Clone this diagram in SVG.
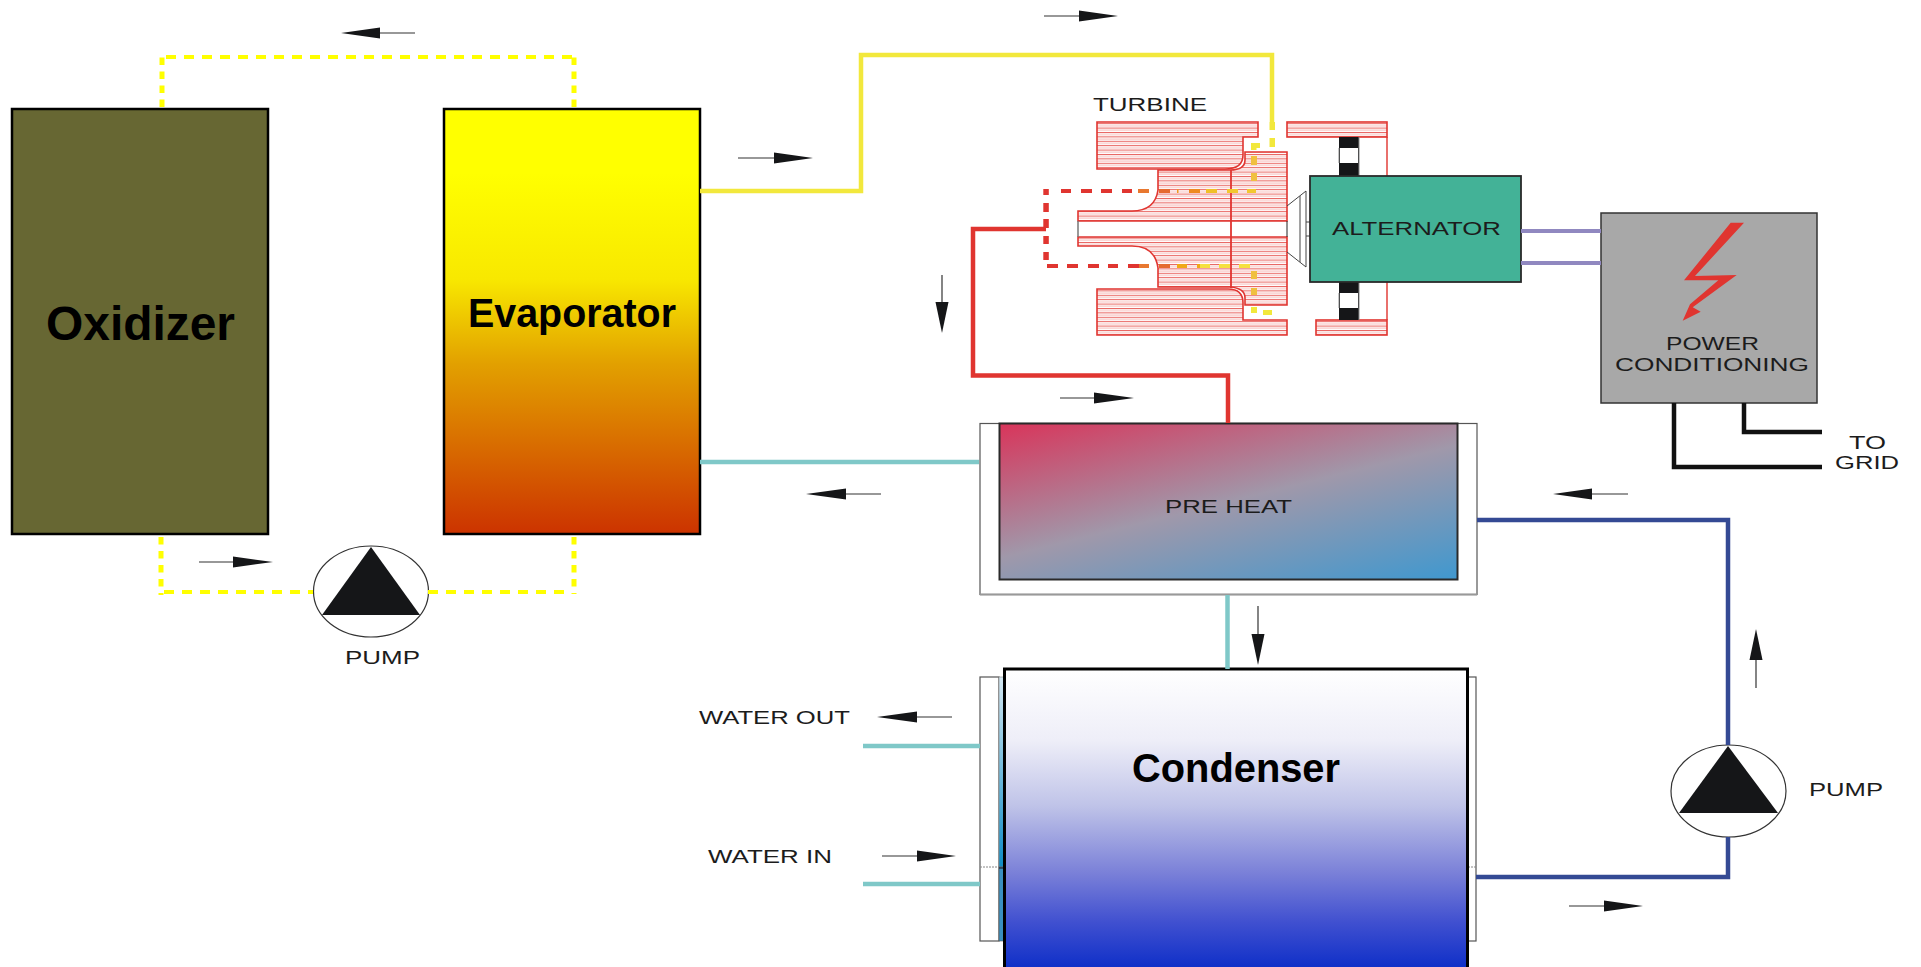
<svg xmlns="http://www.w3.org/2000/svg" width="1921" height="967" viewBox="0 0 1921 967">
<style>
.t{font-family:"Liberation Sans",Arial,sans-serif;font-size:18px;fill:#1c1c1c}
.b{font-family:"Liberation Sans",Arial,sans-serif;font-weight:bold;fill:#000}
.tb{fill:url(#hatch);stroke:#e03530;stroke-width:1.6}
.pipe{fill:none;stroke-linejoin:miter}
.teal{stroke:#7fc8c8;stroke-width:4.5}
.red{stroke:#e03530;stroke-width:4.5}
.blue{stroke:#344a94;stroke-width:4.5}
.blk{stroke:#111;stroke-width:4.5}
.pur{stroke:#9088c0;stroke-width:4}
.yh{stroke:#ffff00;stroke-width:4;stroke-dasharray:10 8}
.yv{stroke:#ffff00;stroke-width:5;stroke-dasharray:7.5 6.5}
.al{stroke:#333;stroke-width:1.2;fill:none}
.ah{fill:#151618}
</style>
<defs>
<pattern id="hatch" patternUnits="userSpaceOnUse" width="8" height="4.4">
<rect width="8" height="4.4" fill="#fff"/>
<rect y="0" width="8" height="1" fill="#e8605c"/>
<rect y="2.2" width="8" height="1" fill="#f8c0be"/>
</pattern>
<linearGradient id="gEvap" x1="0" y1="0" x2="0" y2="1">
<stop offset="0" stop-color="#ffff00"/><stop offset=".15" stop-color="#ffff00"/><stop offset=".4" stop-color="#f8e800"/><stop offset=".6" stop-color="#e2a000"/><stop offset=".8" stop-color="#d86a00"/><stop offset="1" stop-color="#cc3300"/>
</linearGradient>
<linearGradient id="gPre" gradientUnits="userSpaceOnUse" x1="999" y1="423" x2="1062" y2="678">
<stop offset="0" stop-color="#d9345a"/><stop offset=".5" stop-color="#a098aa"/><stop offset="1" stop-color="#3f98cf"/>
</linearGradient>
<linearGradient id="gCond" gradientUnits="userSpaceOnUse" x1="0" y1="669" x2="0" y2="967">
<stop offset="0" stop-color="#ffffff"/><stop offset=".24" stop-color="#eeeef8"/><stop offset=".46" stop-color="#bfc3e8"/><stop offset=".685" stop-color="#7a80d8"/><stop offset=".85" stop-color="#4050d0"/><stop offset="1" stop-color="#1030c8"/>
</linearGradient>
<linearGradient id="gStrip" gradientUnits="userSpaceOnUse" x1="0" y1="677" x2="0" y2="867">
<stop offset="0" stop-color="#d5e8f3"/><stop offset="1" stop-color="#0f8cc4"/>
</linearGradient>
</defs>

<g id="oxidizer">
<rect x="12" y="109" width="256" height="425" fill="#676733" stroke="#000" stroke-width="2.5"/>
<text class="b" x="46" y="340" font-size="48" textLength="189" lengthAdjust="spacingAndGlyphs">Oxidizer</text>
</g>
<g id="evaporator">
<rect x="444" y="109" width="256" height="425" fill="url(#gEvap)" stroke="#000" stroke-width="2.5"/>
<text class="b" x="468" y="327" font-size="41" textLength="208" lengthAdjust="spacingAndGlyphs">Evaporator</text>
</g>
<g id="pump1">
<ellipse cx="371" cy="591.5" rx="57.5" ry="45.5" fill="#fff" stroke="#333" stroke-width="1.2"/>
<polygon points="371,547 420,615 322,615" fill="#151618"/>
<text class="t" x="345" y="664" textLength="75" lengthAdjust="spacingAndGlyphs">PUMP</text>
</g>
<g id="turbine">
<path class="tb" d="M1097 122H1258V137H1243V155Q1243 169 1225 169H1097Z"/>
<path class="tb" d="M1158 170V190Q1155 211 1132 211H1078V221H1287V152H1245V160Q1245 170 1230 170Z"/>
<path class="tb" d="M1078 237H1287V305H1245V298Q1245 288 1230 287H1158V268Q1155 246 1132 246H1078Z"/>
<path class="tb" d="M1097 289H1228Q1243 289 1243 303V320H1287V335H1097Z"/>
<path d="M1231 170V288" fill="none" stroke="#e03530" stroke-width="1.8"/>
<path d="M1078 221V237" fill="none" stroke="#777" stroke-width="1.5"/>
<path d="M1287 221V237" fill="none" stroke="#222" stroke-width="1"/>
<rect class="tb" x="1287" y="122" width="100" height="15"/>
<rect class="tb" x="1316" y="320" width="71" height="15"/>
<path d="M1387 137V176M1387 282V320" fill="none" stroke="#e03530" stroke-width="1.4"/>
<rect x="1339" y="137" width="20" height="39" fill="#151618"/>
<rect x="1340" y="148" width="18" height="15" fill="#fff"/>
<rect x="1339" y="282" width="20" height="38" fill="#151618"/>
<rect x="1340" y="293" width="18" height="15" fill="#fff"/>
<path d="M1339 148V163M1359 137V176M1339 293V308M1359 282V320" stroke="#888" stroke-width="1" fill="none"/>
<path d="M1287 206L1306 191V267L1287 252M1300 196V262M1306 222H1310M1306 236H1310" fill="none" stroke="#444" stroke-width="1"/>
<text class="t" x="1093" y="111" textLength="114" lengthAdjust="spacingAndGlyphs">TURBINE</text>
</g>
<g id="alternator">
<rect x="1310" y="176" width="211" height="106" fill="#43b297" stroke="#2a2a2a" stroke-width="1.8"/>
<text class="t" x="1332" y="235" textLength="169" lengthAdjust="spacingAndGlyphs">ALTERNATOR</text>
</g>
<g id="power-conditioning">
<rect x="1601" y="213" width="216" height="190" fill="#a8a8a8" stroke="#333" stroke-width="1.5"/>
<polygon points="1730.7,222.7 1744,222.7 1695,276 1736.7,275 1692.7,307.3 1700.7,311.7 1682.7,320.7 1690,304.3 1718.3,280.3 1684,280.3" fill="#e03530"/>
<text class="t" x="1666" y="350" textLength="93" lengthAdjust="spacingAndGlyphs">POWER</text>
<text class="t" x="1615" y="371" textLength="194" lengthAdjust="spacingAndGlyphs">CONDITIONING</text>
</g>
<g id="grid-label">
<text class="t" x="1849" y="449" textLength="37" lengthAdjust="spacingAndGlyphs">TO</text>
<text class="t" x="1835" y="469" textLength="64" lengthAdjust="spacingAndGlyphs">GRID</text>
</g>
<g id="preheat">
<rect x="980" y="423.500" width="497" height="171" fill="#fff" stroke="#555" stroke-width="1.2"/>
<path d="M980 594.500H1477" stroke="#999" stroke-width="2" fill="none"/>
<rect x="999.500" y="423.500" width="458" height="156" fill="url(#gPre)" stroke="#2a2a2a" stroke-width="2"/>
<text class="t" x="1165" y="513" textLength="127" lengthAdjust="spacingAndGlyphs">PRE HEAT</text>
</g>
<g id="condenser">
<rect x="980" y="677" width="19" height="264" fill="#fff" stroke="#555" stroke-width="1.2"/>
<rect x="999" y="677" width="5" height="190" fill="url(#gStrip)" stroke="#888" stroke-width=".6"/>
<rect x="999" y="867" width="5" height="74" fill="#3a90c0" stroke="#555" stroke-width=".6"/>
<path d="M980 867H999" stroke="#888" stroke-width="1" stroke-dasharray="2 1" fill="none"/>
<path d="M999 868H1004" stroke="#223" stroke-width="1.2" fill="none"/>
<rect x="1468" y="677" width="8" height="264" fill="#fff" stroke="#555" stroke-width="1.2"/>
<path d="M1468 867H1476" stroke="#888" stroke-width="1" stroke-dasharray="2 1" fill="none"/>
<rect x="1004.500" y="669" width="463" height="310" fill="url(#gCond)" stroke="#000" stroke-width="3"/>
<text class="b" x="1132" y="782" font-size="41" textLength="208" lengthAdjust="spacingAndGlyphs">Condenser</text>
</g>
<g id="pump2">
<ellipse cx="1728.500" cy="791" rx="57.500" ry="46" fill="#fff" stroke="#333" stroke-width="1.2"/>
<polygon points="1728,746 1778,813 1679,813" fill="#151618"/>
<text class="t" x="1809" y="796" textLength="74" lengthAdjust="spacingAndGlyphs">PUMP</text>
</g>
<g id="water-labels">
<text class="t" x="699" y="724" textLength="151" lengthAdjust="spacingAndGlyphs">WATER OUT</text>
<text class="t" x="708" y="863" textLength="124" lengthAdjust="spacingAndGlyphs">WATER IN</text>
</g>

<g id="connectors">
<path class="pipe yh" d="M166 57H574"/>
<path class="pipe yv" d="M162 107V55"/>
<path class="pipe yv" d="M574 107V55"/>
<path class="pipe yv" d="M161 537V595"/>
<path class="pipe yh" d="M164 592H313"/>
<path class="pipe yh" d="M428 592H570"/>
<path class="pipe yv" d="M574 537V594"/>
<path class="pipe" stroke="#f2e83c" stroke-width="4.500" d="M700 191H861V55H1272V122"/>
<path class="pipe red" d="M1228 423V375.500H973V229H1046"/>
<path class="pipe teal" d="M700 462H979"/>
<path class="pipe teal" d="M1227.500 595V669"/>
<path class="pipe teal" d="M863 746H980M863 884H980"/>
<path class="pipe blue" d="M1476 877H1728V837M1728 745V520H1477"/>
<path class="pipe blk" d="M1674 403V467H1822M1744 403V432H1822"/>
<path class="pipe pur" d="M1521 231H1601M1521 263H1601"/>
<g id="red-dashes" fill="#e03530">
<rect x="1043.300" y="189" width="5.500" height="6"/><rect x="1061" y="189" width="10" height="4"/><rect x="1081" y="189" width="11" height="4"/><rect x="1101" y="189" width="11" height="4"/><rect x="1122" y="189" width="10" height="4"/>
<rect x="1043.300" y="203" width="5.500" height="9"/><rect x="1043.300" y="219" width="5.500" height="9"/><rect x="1043.300" y="236" width="5.500" height="8"/><rect x="1043.300" y="252" width="5.500" height="8"/>
<rect x="1047" y="264" width="11" height="4"/><rect x="1067" y="264" width="11" height="4"/><rect x="1088" y="264" width="11" height="4"/><rect x="1108" y="264" width="10" height="4"/><rect x="1128" y="264" width="11" height="4"/>
</g>
<g id="mixed-dashes">
<rect x="1138" y="189" width="11" height="4" fill="#e87830"/><rect x="1159" y="189" width="11" height="4" fill="#e56a30"/><rect x="1177" y="189" width="1.500" height="4" fill="#ee9a20"/><rect x="1189" y="189" width="11" height="4" fill="#ee8a20"/><rect x="1206" y="189" width="11" height="4" fill="#f0c028"/><rect x="1227" y="189" width="11" height="4" fill="#f2c830"/><rect x="1247" y="189" width="9" height="4" fill="#f2c830"/>
<rect x="1139" y="264" width="10" height="4" fill="#e87830"/><rect x="1159" y="264" width="11" height="4" fill="#e56a30"/><rect x="1177" y="264" width="10" height="4" fill="#f0a818"/><rect x="1197" y="264" width="3" height="4" fill="#f0a818"/><rect x="1200" y="264" width="10" height="4" fill="#f5e040"/><rect x="1219" y="264" width="11" height="4" fill="#f5e040"/><rect x="1239" y="264" width="11" height="4" fill="#f5e040"/>
</g>
<g id="yellow-dashes" fill="#f2e83c">
<rect x="1269.500" y="122" width="5.500" height="8"/><rect x="1269.500" y="138" width="5.500" height="9"/>
<rect x="1251" y="143" width="9" height="5"/><rect x="1251" y="143" width="5.500" height="7"/>
<rect x="1251" y="156" width="6" height="9" fill="#f0c040"/><rect x="1251" y="173" width="6" height="8" fill="#f0c040"/>
<rect x="1251" y="271" width="6" height="8" fill="#f0c040"/><rect x="1251" y="288" width="6" height="7" fill="#f0c040"/>
<rect x="1251" y="307" width="6" height="6"/><rect x="1263" y="310" width="9" height="5"/>
</g>
<g id="arrows">
<line class="al" x1="415" y1="33" x2="380" y2="33"/><polygon class="ah" points="341,33 380,27.500 380,38.500"/>
<line class="al" x1="738" y1="158" x2="774" y2="158"/><polygon class="ah" points="813,158 774,152.500 774,163.500"/>
<line class="al" x1="1044" y1="16" x2="1079" y2="16"/><polygon class="ah" points="1118,16 1079,10.500 1079,21.500"/>
<line class="al" x1="942" y1="275" x2="942" y2="302"/><polygon class="ah" points="942,333 935.500,302 948.500,302"/>
<line class="al" x1="1060" y1="398" x2="1094" y2="398"/><polygon class="ah" points="1134,398 1094,392.500 1094,403.500"/>
<line class="al" x1="881" y1="494" x2="846" y2="494"/><polygon class="ah" points="806,494 846,488.500 846,499.500"/>
<line class="al" x1="1628" y1="494" x2="1592" y2="494"/><polygon class="ah" points="1553,494 1592,488.500 1592,499.500"/>
<line class="al" x1="1258" y1="606" x2="1258" y2="634"/><polygon class="ah" points="1258,665 1251.500,634 1264.500,634"/>
<line class="al" x1="1756" y1="688" x2="1756" y2="660"/><polygon class="ah" points="1756,629 1749.500,660 1762.500,660"/>
<line class="al" x1="952" y1="717" x2="917" y2="717"/><polygon class="ah" points="877,717 917,711.500 917,722.500"/>
<line class="al" x1="882" y1="856" x2="917" y2="856"/><polygon class="ah" points="956,856 917,850.500 917,861.500"/>
<line class="al" x1="199" y1="562" x2="233" y2="562"/><polygon class="ah" points="273,562 233,556.500 233,567.500"/>
<line class="al" x1="1569" y1="906" x2="1604" y2="906"/><polygon class="ah" points="1643,906 1604,900.500 1604,911.500"/>
</g>
</g>
</svg>
